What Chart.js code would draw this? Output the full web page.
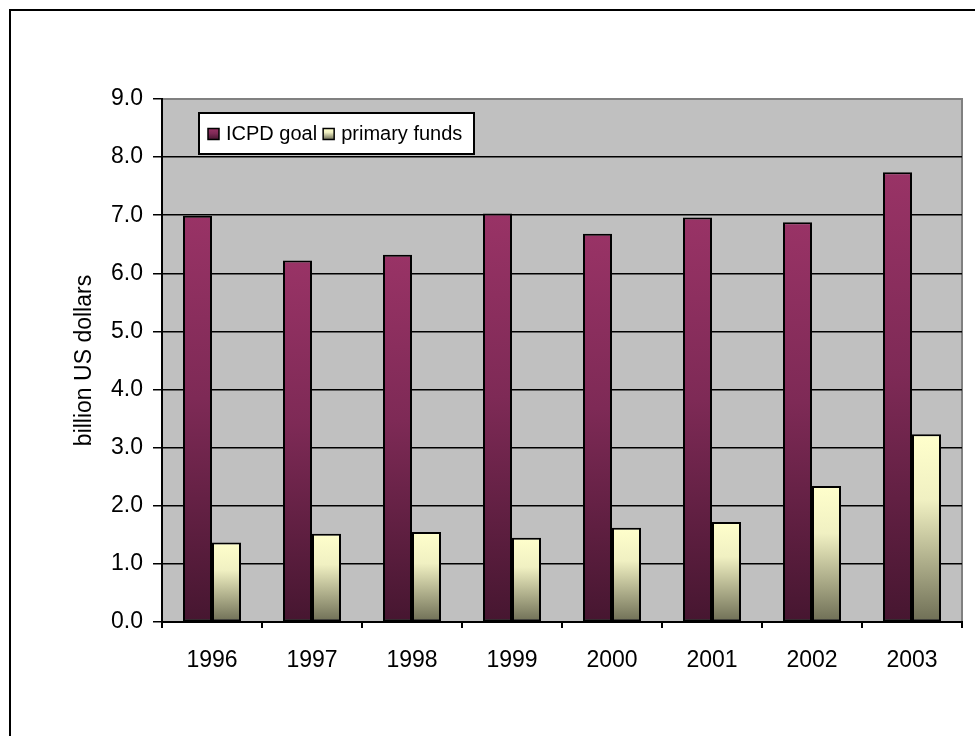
<!DOCTYPE html>
<html>
<head>
<meta charset="utf-8">
<script src="https://cdn.jsdelivr.net/npm/chart.js@4/dist/chart.umd.min.js"></script>
<style>
  html, body { margin: 0; padding: 0; background: #ffffff; }
  #wrap { width: 975px; height: 736px; position: relative; }
</style>
</head>
<body>
<div id="wrap"><canvas id="chart" width="975" height="736"></canvas></div>
<script>
// data
const years = ['1996', '1997', '1998', '1999', '2000', '2001', '2002', '2003'];
const icpdGoal = [6.99, 6.22, 6.32, 7.03, 6.68, 6.96, 6.88, 7.74];
const primaryFunds = [1.37, 1.52, 1.55, 1.45, 1.62, 1.72, 2.34, 3.23];
const seriesLabels = ['ICPD goal', 'primary funds'];

const FONT = '"Liberation Sans", Arial, sans-serif';

// vertical gradient per bar, from top of bar to the zero line
function barGradient(stops, flat) {
    return function(context) {
        const chart = context.chart;
        const y = chart.scales.y;
        if (!chart.chartArea || !y || context.raw == null) return flat;
        const top = y.getPixelForValue(context.raw);
        const bottom = y.getPixelForValue(0);
        const g = chart.ctx.createLinearGradient(0, top, 0, bottom);
        stops.forEach(s => g.addColorStop(s[0], s[1]));
        return g;
    };
}

const icpdStops = [[0, '#993366'], [0.45, '#7e2a56'], [1, '#461630']];
const fundStops = [[0, '#ffffcc'], [0.35, '#f0f0c2'], [1, '#6e6e55']];

// plot background, grey frame, outer chart border
const frame = {
    id: 'frame',
    beforeDraw(chart) {
        const { ctx, chartArea: a } = chart;
        ctx.save();
        ctx.fillStyle = '#c0c0c0';
        ctx.fillRect(a.left, a.top, a.right - a.left, a.bottom - a.top);
        ctx.strokeStyle = '#808080';
        ctx.lineWidth = 2;
        ctx.beginPath();
        ctx.moveTo(a.left, a.top);
        ctx.lineTo(a.right, a.top);
        ctx.lineTo(a.right, a.bottom);
        ctx.stroke();
        ctx.strokeStyle = '#000000';
        ctx.lineWidth = 2;
        ctx.strokeRect(10, 10, 1000, 1000);
        ctx.restore();
    }
};

// legend box inside the plot area
const boxLegend = {
    id: 'boxLegend',
    afterDatasetsDraw(chart) {
        const ctx = chart.ctx;
        const x0 = 199, y0 = 113, w = 275, h = 41;
        ctx.save();
        ctx.fillStyle = '#ffffff';
        ctx.fillRect(x0, y0, w, h);
        ctx.strokeStyle = '#000000';
        ctx.lineWidth = 2;
        ctx.strokeRect(x0, y0, w, h);
        ctx.font = '20px ' + FONT;
        ctx.textBaseline = 'middle';
        const stopsList = [icpdStops, fundStops];
        let x = x0 + 9;
        const cy = y0 + h / 2;
        seriesLabels.forEach((label, i) => {
            const g = ctx.createLinearGradient(0, cy - 5, 0, cy + 6);
            stopsList[i].forEach(s => g.addColorStop(s[0], s[1]));
            ctx.fillStyle = g;
            ctx.fillRect(x, cy - 5, 11, 11);
            ctx.strokeStyle = '#000000';
            ctx.lineWidth = 1.5;
            ctx.strokeRect(x, cy - 5, 11, 11);
            ctx.fillStyle = '#000000';
            ctx.fillText(label, x + 18, cy + 1);
            x += 18 + ctx.measureText(label).width + 6;
        });
        ctx.restore();
    }
};

const chart = new Chart(document.getElementById('chart').getContext('2d'), {
    type: 'bar',
    data: {
        labels: years,
        datasets: [
            {
                label: seriesLabels[0],
                data: icpdGoal,
                backgroundColor: barGradient(icpdStops, '#993366'),
                borderColor: '#000000',
                borderWidth: 2,
                borderSkipped: false,
            },
            {
                label: seriesLabels[1],
                data: primaryFunds,
                backgroundColor: barGradient(fundStops, '#ffffcc'),
                borderColor: '#000000',
                borderWidth: 2,
                borderSkipped: false,
            },
        ],
    },
    options: {
        responsive: false,
        animation: false,
        layout: { padding: { top: 99, right: 13, left: 0, bottom: 0 } },
        datasets: { bar: { categoryPercentage: 0.58, barPercentage: 1.0 } },
        plugins: {
            legend: { display: false },
            tooltip: { enabled: false },
        },
        scales: {
            x: {
                offset: true,
                grid: {
                    display: true,
                    offset: true,
                    drawOnChartArea: false,
                    drawTicks: true,
                    tickLength: 6,
                    color: '#000000',
                    lineWidth: 2,
                },
                border: { display: true, color: '#000000', width: 2 },
                ticks: {
                    color: '#000000',
                    padding: 19,
                    font: { family: FONT, size: 23 },
                },
                afterFit(scale) { scale.height = 114; },
            },
            y: {
                min: 0,
                max: 9,
                ticks: {
                    stepSize: 1,
                    color: '#000000',
                    padding: 10,
                    font: { family: FONT, size: 23 },
                    callback: v => Number(v).toFixed(1),
                },
                grid: {
                    color: c => (c.tick && c.tick.value === 9 ? '#808080' : '#000000'),
                    tickColor: '#000000',
                    lineWidth: 1.5,
                    tickLength: 9,
                },
                border: { display: true, color: '#000000', width: 2 },
                title: {
                    display: true,
                    text: 'billion US dollars',
                    color: '#000000',
                    font: { family: FONT, size: 23 },
                    padding: { top: 71, bottom: 0 },
                },
                afterFit(scale) { scale.width = 162; },
            },
        },
    },
    plugins: [frame, boxLegend],
});
</script>
</body>
</html>
